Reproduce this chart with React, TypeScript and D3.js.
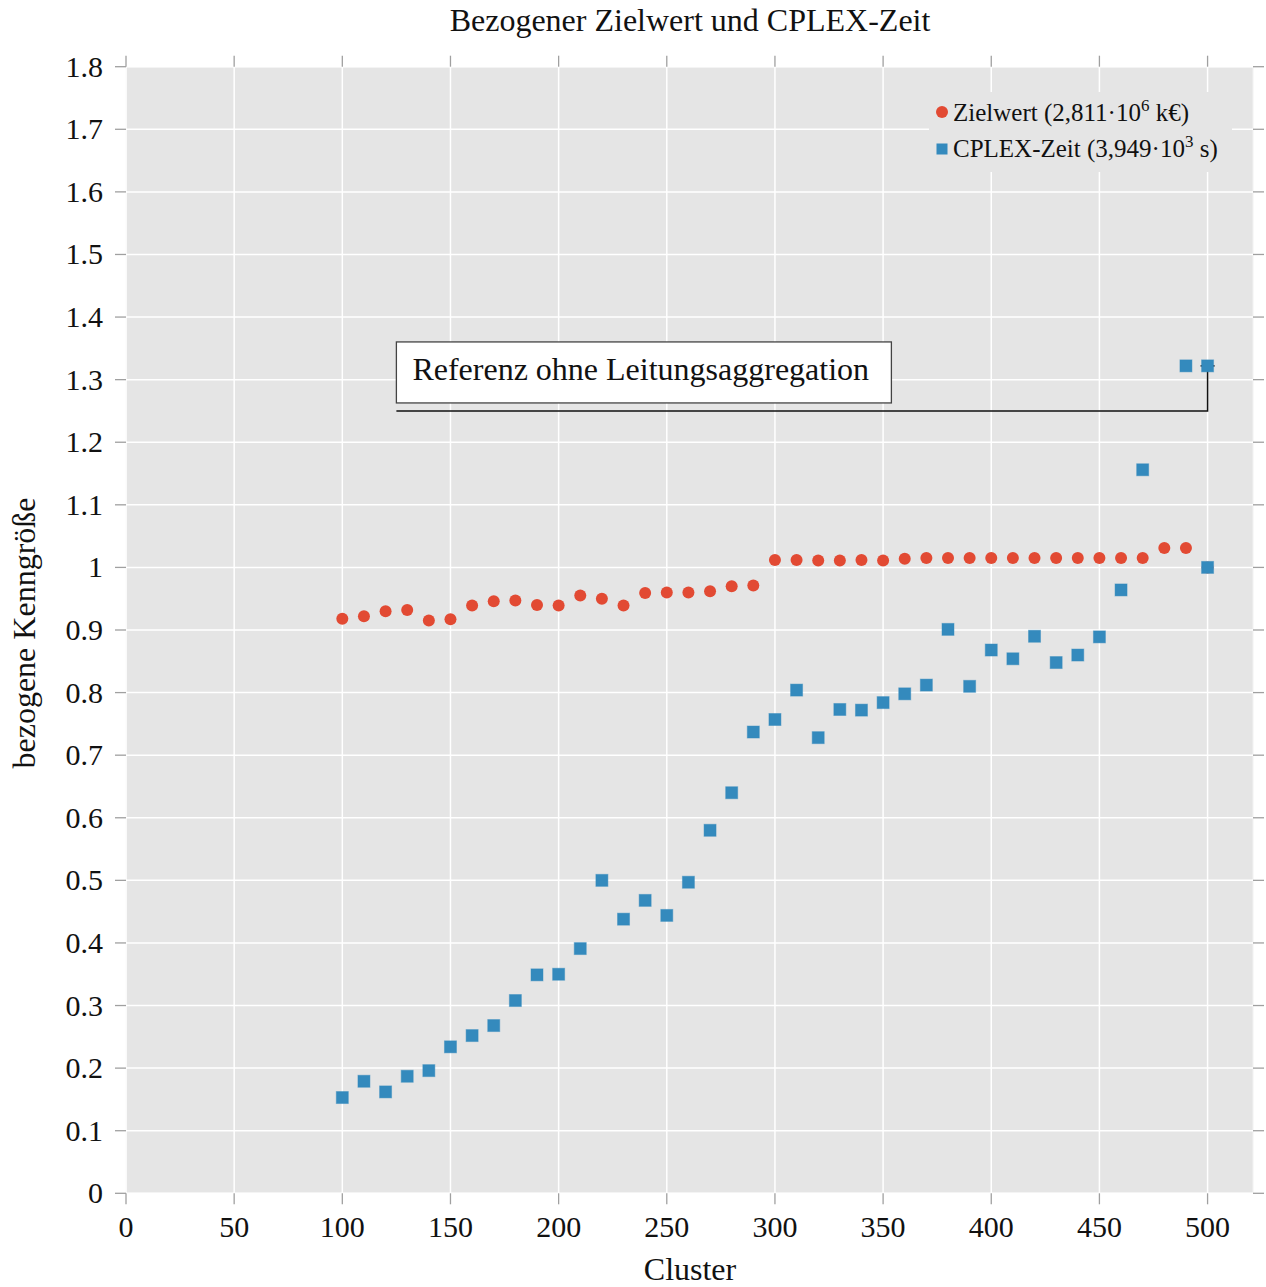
import React from "react";
import * as d3 from "d3";

const clusters = [100,110,120,130,140,150,160,170,180,190,200,210,220,230,240,250,260,270,280,290,300,310,320,330,340,350,360,370,380,390,400,410,420,430,440,450,460,470,480,490,500];
const zielwert = [0.918,0.922,0.930,0.932,0.915,0.917,0.939,0.946,0.947,0.940,0.939,0.955,0.950,0.939,0.959,0.960,0.960,0.962,0.970,0.971,1.012,1.012,1.011,1.011,1.012,1.011,1.014,1.015,1.015,1.015,1.015,1.015,1.015,1.015,1.015,1.015,1.015,1.015,1.031,1.031,1.0];
const cplexZeit: (number | null)[] = [0.153,0.179,0.162,0.187,0.196,0.234,0.252,0.268,0.308,0.349,0.350,0.391,0.500,0.438,0.468,0.444,0.497,0.580,0.640,0.737,0.757,0.804,0.728,0.773,0.772,0.784,0.798,0.812,0.901,0.810,0.868,0.854,0.890,0.848,0.860,0.889,0.964,1.156,null,1.322,1.0];
const referenzCluster = 500;
const referenzWert = 1.322;
const xTicks = [0,50,100,150,200,250,300,350,400,450,500];
const yTicks = [0,0.1,0.2,0.3,0.4,0.5,0.6,0.7,0.8,0.9,1,1.1,1.2,1.3,1.4,1.5,1.6,1.7,1.8];
const annotX = 125;
const annotY = 1.25;

const RED = "#E24A33";
const BLUE = "#348ABD";
const FONT = "'Liberation Serif', 'DejaVu Serif', serif";

export default function App() {
  const W = 1266, H = 1287;
  const x = d3.scaleLinear().domain([0, 521]).range([126, 1253]);
  const y = d3.scaleLinear().domain([0, 1.8]).range([1193.3, 66.7]);
  const [x0, x1] = x.range();
  const [y0, y1] = y.range();
  const tickCol = "#a0a0a0";
  const fmtY = (v: number) => (v === 0 ? "0" : v === 1 ? "1" : d3.format(".1f")(v));
  const sq = 12;

  const ax = x(annotX);
  const ay = y(annotY);
  const rx = x(referenzCluster);
  const ry = y(referenzWert);

  return (
    <svg width={W} height={H} style={{ position: "absolute", left: 0, top: 0, background: "#fff" }} fontFamily={FONT}>
      <rect x={x0} y={y1} width={x1 - x0} height={y0 - y1} fill="#E5E5E5" stroke="#f2f2f2" strokeWidth={1} />
      {xTicks.map((t) => (
        <line key={"gx" + t} x1={x(t)} x2={x(t)} y1={y0} y2={y1} stroke="#fff" strokeWidth={1.5} />
      ))}
      {yTicks.map((t) => (
        <line key={"gy" + t} x1={x0} x2={x1} y1={y(t)} y2={y(t)} stroke="#fff" strokeWidth={1.5} />
      ))}
      {xTicks.map((t) => (
        <g key={"tx" + t} stroke={tickCol} strokeWidth={1.3}>
          <line x1={x(t)} x2={x(t)} y1={y0} y2={y0 + 11} />
          <line x1={x(t)} x2={x(t)} y1={y1} y2={y1 - 11} />
        </g>
      ))}
      {yTicks.map((t) => (
        <g key={"ty" + t} stroke={tickCol} strokeWidth={1.3}>
          <line x1={x0} x2={x0 - 11} y1={y(t)} y2={y(t)} />
          <line x1={x1} x2={x1 + 11} y1={y(t)} y2={y(t)} />
        </g>
      ))}
      {xTicks.map((t) => (
        <text key={"lx" + t} x={x(t)} y={1237} textAnchor="middle" fontSize={30} fill="#111">{t}</text>
      ))}
      {yTicks.map((t) => (
        <text key={"ly" + t} x={103} y={y(t) + 10} textAnchor="end" fontSize={30} fill="#111">{fmtY(t)}</text>
      ))}

      <polyline points={`${ax},${ay} ${rx},${ay} ${rx},${ry}`} fill="none" stroke="#111" strokeWidth={1.5} />
      <line x1={rx - 7} x2={rx + 7} y1={ry} y2={ry} stroke="#111" strokeWidth={1.5} />

      {clusters.map((c, i) => (
        <circle key={"z" + c} cx={x(c)} cy={y(zielwert[i])} r={6} fill={RED} />
      ))}
      {clusters.map((c, i) => {
        const v = cplexZeit[i];
        if (v == null) return null;
        return (
          <rect key={"c" + c} x={x(c) - sq / 2} y={y(v) - sq / 2} width={sq} height={sq} fill={BLUE} stroke="rgba(52,138,189,0.45)" strokeWidth={1} />
        );
      })}
      <rect x={rx - sq / 2} y={ry - sq / 2} width={sq} height={sq} fill={BLUE} stroke="rgba(52,138,189,0.45)" strokeWidth={1} />

      <rect x={ax} y={ay - 69} width={495} height={61} fill="#fff" stroke="#444" strokeWidth={1.3} />
      <text x={ax + 16} y={ay - 31} fontSize={32} fill="#111">Referenz ohne Leitungsaggregation</text>

      <rect x={929} y={92} width={303} height={80} fill="#E5E5E5" />
      <circle cx={942} cy={112} r={6} fill={RED} />
      <text x={953} y={121} fontSize={25} fill="#111">
        Zielwert (2,811·10<tspan fontSize={17} dy={-10}>6</tspan><tspan dy={10}> k€)</tspan>
      </text>
      <rect x={942 - 5.5} y={149 - 5.5} width={11} height={11} fill={BLUE} />
      <text x={953} y={157} fontSize={25} fill="#111">
        CPLEX-Zeit (3,949·10<tspan fontSize={17} dy={-10}>3</tspan><tspan dy={10}> s)</tspan>
      </text>

      <text x={690} y={31} textAnchor="middle" fontSize={32} fill="#111">Bezogener Zielwert und CPLEX-Zeit</text>
      <text x={690} y={1280} textAnchor="middle" fontSize={32} fill="#111">Cluster</text>
      <text transform={`translate(35,${633}) rotate(-90)`} textAnchor="middle" fontSize={32} fill="#111">bezogene Kenngröße</text>
    </svg>
  );
}
